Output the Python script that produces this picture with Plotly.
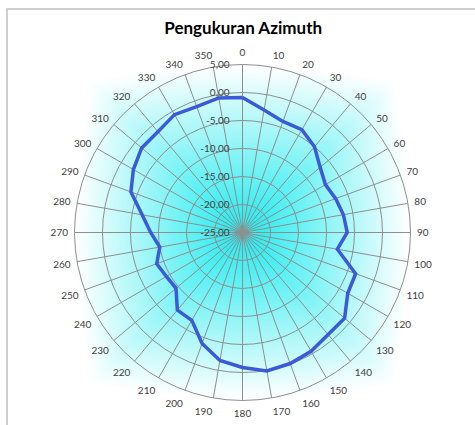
import base64
import struct
import zlib

import numpy as np
import plotly.graph_objects as go

# ---------------- data ----------------
azimuth_deg = [0, 10, 20, 30, 40, 50, 60, 70, 80, 90, 100, 110,
               120, 130, 140, 150, 160, 170, 180, 190, 200, 210, 220, 230,
               240, 250, 260, 270, 280, 290, 300, 310, 320, 330, 340, 350]
azimuth_labels = [str(a) for a in azimuth_deg]
level_db = [-0.9, -2.8, -3.9, -3.8, -5.0, -6.9, -7.9, -7.3, -6.7, -6.3, -7.8, -3.5,
            -3.3, -1.2, -1.2, -0.5, -0.1, 0.1, -0.9, -1.8, -3.9, -6.9, -6.9, -9.5,
            -9.3, -8.7, -10.0, -8.6, -6.8, -3.8, -2.5, -1.5, -1.5, -0.7, -1.1, -0.6]
radial_ticks = [-25, -20, -15, -10, -5, 0, 5]
radial_ticktext = ["-25,00", "-20,00", "-15,00", "-10,00", "-5,00", "0,00", "5,00"]

W, H = 475, 425
CX, CY, R = 242.5, 232.5, 168.0   # polar centre / radius in px
HALF = 166                          # half size of gradient plot area


def make_png(arr):
    h, w, _ = arr.shape
    raw = b"".join(b"\x00" + arr[i].tobytes() for i in range(h))

    def chunk(tag, data):
        c = struct.pack(">I", len(data)) + tag + data
        return c + struct.pack(">I", zlib.crc32(tag + data) & 0xFFFFFFFF)

    return (b"\x89PNG\r\n\x1a\n"
            + chunk(b"IHDR", struct.pack(">IIBBBBB", w, h, 8, 2, 0, 0, 0))
            + chunk(b"IDAT", zlib.compress(raw, 9))
            + chunk(b"IEND", b""))


# rectangular "from centre" gradient, cyan -> white
n = 2 * HALF
yy, xx = np.mgrid[0:n, 0:n]
dx = np.abs(xx - HALF + 0.5)
dy = np.abs(yy - HALF + 0.5)
d_cheb = np.maximum(dx, dy) / HALF
d_eucl = np.sqrt(dx ** 2 + dy ** 2) / HALF
d = 0.75 * d_cheb + 0.25 * d_eucl
t = np.clip(d, 0, 1) ** 1.05
cyan = np.array([34, 236, 240], dtype=float)
white = np.array([255, 255, 255], dtype=float)
img = (cyan[None, None, :] * (1 - t[..., None]) + white[None, None, :] * t[..., None])
img = np.clip(img, 0, 255).astype(np.uint8)
src = "data:image/png;base64," + base64.b64encode(make_png(img)).decode()

fig = go.Figure()
fig.add_trace(go.Scatterpolar(
    r=level_db + [level_db[0]],
    theta=azimuth_deg + [azimuth_deg[0]],
    mode="lines",
    line=dict(color="#3A5AD8", width=3.5),
    showlegend=False,
    hoverinfo="skip",
))

fig.update_layout(
    width=W, height=H,
    margin=dict(l=0, r=0, t=0, b=0),
    paper_bgcolor="white",
    font=dict(family="Lato, 'Open Sans', sans-serif", color="#404040", size=10),
    title=dict(text="<b>Pengukuran Azimuth</b>", x=0.512, xanchor="center",
               y=1 - 28 / H, yanchor="middle",
               font=dict(family="Lato, sans-serif", size=17, color="#000000")),
    polar=dict(
        domain=dict(x=[(CX - R) / W, (CX + R) / W],
                    y=[(H - CY - R) / H, (H - CY + R) / H]),
        bgcolor="rgba(0,0,0,0)",
        angularaxis=dict(
            rotation=90, direction="clockwise",
            tickmode="array", tickvals=azimuth_deg, ticktext=azimuth_labels,
            showgrid=True, gridcolor="#8E8E8E", gridwidth=0.8,
            showline=True, linecolor="#8E8E8E", linewidth=1,
            ticks="outside", ticklen=4, tickcolor="rgba(0,0,0,0)",
            tickfont=dict(size=10, color="#404040"),
        ),
        radialaxis=dict(
            range=[-25, 5], angle=90, side="counterclockwise",
            tickmode="array", tickvals=radial_ticks, ticktext=radial_ticktext,
            showgrid=True, gridcolor="#8E8E8E", gridwidth=0.8,
            showline=False, ticks="outside", ticklen=9,
            tickcolor="rgba(0,0,0,0)", tickangle=90,
            tickfont=dict(size=10, color="#404040"),
        ),
    ),
    images=[dict(source=src, xref="paper", yref="paper",
                 x=(CX - HALF) / W, y=(H - (CY - HALF)) / H,
                 sizex=2 * HALF / W, sizey=2 * HALF / H,
                 xanchor="left", yanchor="top", sizing="stretch",
                 layer="below")],
    shapes=[dict(type="rect", xref="paper", yref="paper",
                 x0=7 / W, x1=1.05, y0=-0.05, y1=1 - 9 / H,
                 line=dict(color="#BEBEBE", width=1.5), fillcolor="rgba(0,0,0,0)")],
)

fig.write_html("out.html",
               config={"displayModeBar": False},
               post_script="document.body.style.margin='0';document.body.style.overflow='hidden';")
